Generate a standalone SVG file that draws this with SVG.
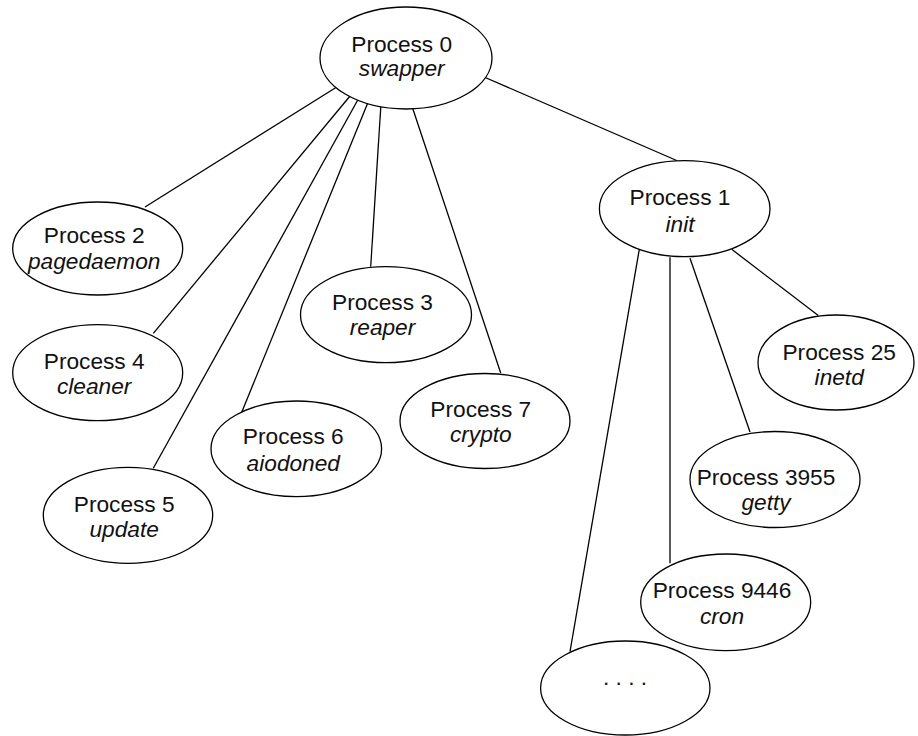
<svg xmlns="http://www.w3.org/2000/svg" width="918" height="736" viewBox="0 0 918 736">
  <style>
    .node ellipse { fill: #ffffff; stroke: #000000; stroke-width: 1.3; }
    .node text { font-family: "Liberation Sans", Arial, sans-serif; font-size: 22.7px; fill: #111111; text-anchor: middle; }
    .node text.sub { font-style: italic; }
    #edges line { stroke: #000000; stroke-width: 1.3; }
  </style>
  <rect width="918" height="736" fill="#ffffff"/>

  <!-- parent/child links -->
  <g id="edges">
    <line x1="340" y1="85" x2="145" y2="207"/>
    <line x1="351.7" y1="94" x2="153.3" y2="333.3"/>
    <line x1="360" y1="96" x2="153.3" y2="468.3"/>
    <line x1="371" y1="95" x2="241.7" y2="412.3"/>
    <line x1="381" y1="103.3" x2="370.7" y2="266.7"/>
    <line x1="411" y1="103.3" x2="500.7" y2="373"/>
    <line x1="481.7" y1="76" x2="676.7" y2="160.5"/>
    <line x1="639.3" y1="249.3" x2="570" y2="651.7"/>
    <line x1="670" y1="257.3" x2="670" y2="563.3"/>
    <line x1="690" y1="258.3" x2="750" y2="432"/>
    <line x1="731.7" y1="249.3" x2="818.3" y2="315.5"/>
  </g>

  <g id="p0" class="node">
    <ellipse cx="406" cy="58" rx="86" ry="51"/>
    <text x="401.7" y="51.7">Process 0</text>
    <text class="sub" x="401.7" y="76">swapper</text>
  </g>
  <g id="p1" class="node">
    <ellipse cx="684.7" cy="208.7" rx="85.3" ry="48"/>
    <text x="680" y="205">Process 1</text>
    <text class="sub" x="680" y="231.7">init</text>
  </g>
  <g id="p2" class="node">
    <ellipse cx="97.7" cy="248.5" rx="85" ry="46.5"/>
    <text x="94.2" y="243.3">Process 2</text>
    <text class="sub" x="94.2" y="269">pagedaemon</text>
  </g>
  <g id="p3" class="node">
    <ellipse cx="386" cy="314.7" rx="85.5" ry="48"/>
    <text x="382.5" y="310">Process 3</text>
    <text class="sub" x="382.5" y="335">reaper</text>
  </g>
  <g id="p4" class="node">
    <ellipse cx="97.7" cy="372.7" rx="85" ry="48"/>
    <text x="94.2" y="369">Process 4</text>
    <text class="sub" x="94.2" y="394">cleaner</text>
  </g>
  <g id="p5" class="node">
    <ellipse cx="128" cy="515.3" rx="84.7" ry="48"/>
    <text x="124.2" y="511.7">Process 5</text>
    <text class="sub" x="124.2" y="537.3">update</text>
  </g>
  <g id="p6" class="node">
    <ellipse cx="296.3" cy="448.8" rx="85.3" ry="47.8"/>
    <text x="293.3" y="444">Process 6</text>
    <text class="sub" x="293.3" y="470.7">aiodoned</text>
  </g>
  <g id="p7" class="node">
    <ellipse cx="485" cy="421" rx="85" ry="47.5"/>
    <text x="480.8" y="416.7">Process 7</text>
    <text class="sub" x="480.8" y="441.7">crypto</text>
  </g>
  <g id="p25" class="node">
    <ellipse cx="836" cy="362.5" rx="78" ry="47.5"/>
    <text x="839.2" y="360">Process 25</text>
    <text class="sub" x="839.2" y="385">inetd</text>
  </g>
  <g id="p3955" class="node">
    <ellipse cx="775" cy="479.5" rx="85" ry="48"/>
    <text x="766" y="485">Process 3955</text>
    <text class="sub" x="766" y="510">getty</text>
  </g>
  <g id="p9446" class="node">
    <ellipse cx="725.7" cy="602.3" rx="85" ry="48.3"/>
    <text x="722" y="598.3">Process 9446</text>
    <text class="sub" x="722" y="624">cron</text>
  </g>
  <g id="more" class="node">
    <ellipse cx="625.3" cy="688" rx="84.7" ry="47"/>
    <text x="625" y="685">. . . .</text>
  </g>
</svg>
